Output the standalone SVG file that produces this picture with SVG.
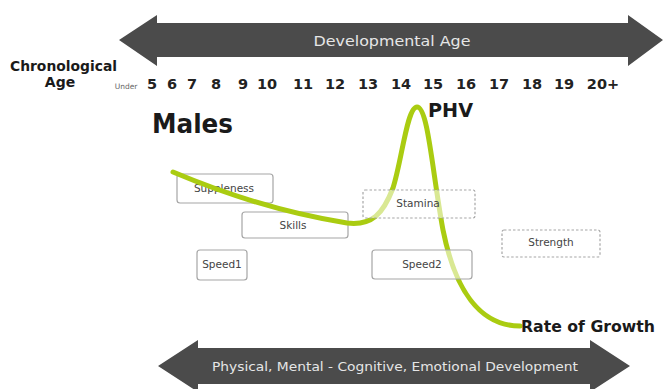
<svg xmlns="http://www.w3.org/2000/svg" width="664" height="389" viewBox="0 0 664 389">
<style>
.arrow{fill:#4b4b4b}
.atext{font-family:"DejaVu Sans","Liberation Sans",sans-serif;fill:#e6e6e6;text-anchor:middle}
.num{font-family:"DejaVu Sans","Liberation Sans",sans-serif;font-weight:bold;font-size:14.5px;fill:#222;text-anchor:middle}
.lbl{font-family:"DejaVu Sans","Liberation Sans",sans-serif;font-weight:bold;fill:#1a1a1a}
.box{fill:#fff;fill-opacity:0.55;stroke:#a6a6a6;stroke-width:1.2}
.dash{stroke-dasharray:2.5 2}
.btext{font-family:"DejaVu Sans","Liberation Sans",sans-serif;font-size:10.5px;fill:#444;text-anchor:middle}
</style>
<rect width="664" height="389" fill="#fff"/>
<g id="developmental-age">
<polygon class="arrow" points="119,40 157,15 157,23 628,23 628,15 663,40 628,66 628,57 157,57 157,66"/>
<text class="atext" x="392" y="46" font-size="14" textLength="157" lengthAdjust="spacingAndGlyphs">Developmental Age</text>
</g>
<g id="chronological-age">
<text class="lbl" x="10" y="71" font-size="14" textLength="107" lengthAdjust="spacingAndGlyphs">Chronological</text>
<text class="lbl" x="60" y="87" font-size="14" text-anchor="middle">Age</text>
<text x="126" y="89" font-family="DejaVu Sans, sans-serif" font-size="7.5" fill="#666" text-anchor="middle">Under</text>
<text class="num" x="152" y="89">5</text>
<text class="num" x="172" y="89">6</text>
<text class="num" x="192" y="89">7</text>
<text class="num" x="216" y="89">8</text>
<text class="num" x="243" y="89">9</text>
<text class="num" x="267" y="89">10</text>
<text class="num" x="303" y="89">11</text>
<text class="num" x="335" y="89">12</text>
<text class="num" x="368" y="89">13</text>
<text class="num" x="401" y="89">14</text>
<text class="num" x="433" y="89">15</text>
<text class="num" x="466" y="89">16</text>
<text class="num" x="499" y="89">17</text>
<text class="num" x="532" y="89">18</text>
<text class="num" x="564" y="89">19</text>
<text class="num" x="603" y="89">20+</text>
</g>
<text id="males" class="lbl" x="152" y="133" font-size="27" textLength="81" lengthAdjust="spacingAndGlyphs">Males</text>
<g id="suppleness">
<rect class="box" x="177" y="174" width="96" height="29" rx="3"/>
<text class="btext" x="224" y="192">Suppleness</text>
</g>
<g id="skills">
<rect class="box" x="242" y="212" width="106" height="26" rx="3"/>
<text class="btext" x="293" y="229">Skills</text>
</g>
<g id="connectors">
<path d="M173,172 C230,196 290,214 347,223 C372,226 383,214 393,188 C402,160 407,107 417,107 C428,107 432,170 443,230 C455,290 480,326 520,326" fill="none" stroke="#aacc11" stroke-width="5" stroke-linecap="round"/>
</g>
<text id="phv" class="lbl" x="428" y="117" font-size="19" textLength="45" lengthAdjust="spacingAndGlyphs">PHV</text>
<text id="rate-of-growth" class="lbl" x="521" y="332" font-size="16.5" textLength="134" lengthAdjust="spacingAndGlyphs">Rate of Growth</text>
<g id="stamina">
<rect class="box dash" x="363" y="190" width="112" height="28" rx="2"/>
<text class="btext" x="418" y="207">Stamina</text>
</g>
<g id="speed1">
<rect class="box" x="197" y="250" width="50" height="30" rx="3"/>
<text class="btext" x="222" y="268">Speed1</text>
</g>
<g id="speed2">
<rect class="box" x="372" y="250" width="100" height="29" rx="3"/>
<text class="btext" x="422" y="268">Speed2</text>
</g>
<g id="strength">
<rect class="box dash" x="502" y="230" width="98" height="27" rx="2"/>
<text class="btext" x="551" y="246">Strength</text>
</g>
<g id="development">
<polygon class="arrow" points="158,366 198,340 198,348 590,348 590,340 630,366 590,392 590,384 198,384 198,392"/>
<text class="atext" x="395" y="371" font-size="12.5" textLength="366" lengthAdjust="spacingAndGlyphs">Physical, Mental - Cognitive, Emotional Development</text>
</g>
</svg>
